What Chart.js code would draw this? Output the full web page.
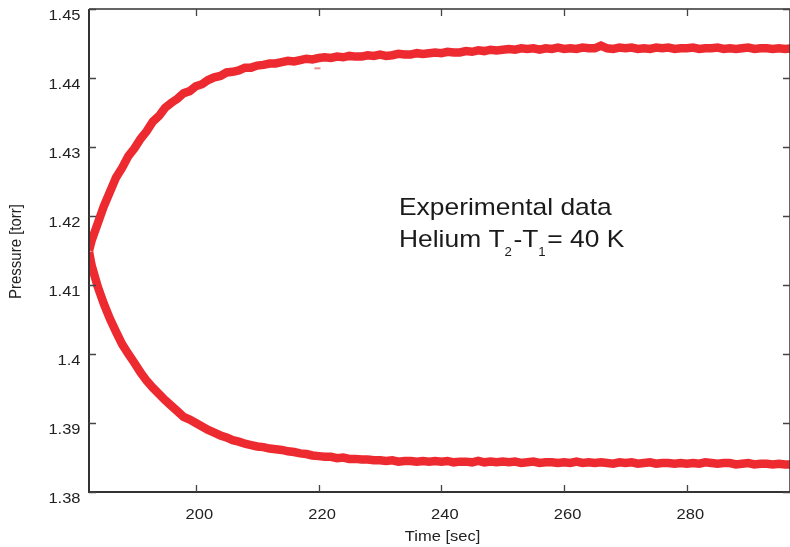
<!DOCTYPE html>
<html>
<head>
<meta charset="utf-8">
<title>Pressure vs time</title>
<script src="https://cdn.jsdelivr.net/npm/chart.js@4"></script>
<style>
  html, body { margin: 0; padding: 0; background: #fff; }
  #wrap { width: 790px; height: 547px; position: relative; }
</style>
</head>
<body>
<div id="wrap"><canvas id="pressureChart" width="790" height="547"></canvas></div>
<script>
/*
 * Experimental pressure traces (helium, T2-T1 = 40 K), drawn with Chart.js.
 * Values.
 */

// time axis [sec]
const times = [
  182.6, 183, 184, 185, 186, 187, 188, 189, 190, 191, 192, 193, 194, 195, 196, 197, 198, 199,
  200, 201, 202, 203, 204, 205, 206, 207, 208, 209, 210, 211, 212, 213, 214, 215, 216, 217, 218, 219,
  220, 221, 222, 223, 224, 225, 226, 227, 228, 229, 230, 231, 232, 233, 234, 235, 236, 237, 238, 239,
  240, 241, 242, 243, 244, 245, 246, 247, 248, 249, 250, 251, 252, 253, 254, 255, 256, 257, 258, 259,
  260, 261, 262, 263, 264, 265, 266, 267, 268, 269, 270, 271, 272, 273, 274, 275, 276, 277, 278, 279,
  280, 281, 282, 283, 284, 285, 286, 287, 288, 289, 290, 291, 292, 293, 294, 295, 296, 297
];

// rising branch [torr]
const upperPressure = [
  1.4150, 1.4164, 1.4189, 1.4214, 1.4235, 1.4256, 1.4270, 1.4287, 1.4298, 1.4312, 1.4323, 1.4337, 1.4345, 1.4357, 1.4364, 1.4370, 1.4378, 1.4381,
  1.4388, 1.4391, 1.4397, 1.4401, 1.4403, 1.4408, 1.4409, 1.4411, 1.4415, 1.4415, 1.4418, 1.4419, 1.4421, 1.4421, 1.4423, 1.4425, 1.4424, 1.4426, 1.4428, 1.4427,
  1.4429, 1.4430, 1.4429, 1.4431, 1.4430, 1.4432, 1.4431, 1.4431, 1.4433, 1.4432, 1.4434, 1.4432, 1.4433, 1.4435, 1.4434, 1.4434, 1.4436, 1.4435, 1.4436, 1.4437,
  1.4436, 1.4438, 1.4437, 1.4437, 1.4439, 1.4438, 1.4440, 1.4439, 1.4441, 1.4440, 1.4441, 1.4442, 1.4441, 1.4443, 1.4442, 1.4443, 1.4441, 1.4443, 1.4442, 1.4444,
  1.4442, 1.4443, 1.4442, 1.4444, 1.4443, 1.4443, 1.4447, 1.4443, 1.4442, 1.4444, 1.4443, 1.4444, 1.4442, 1.4443, 1.4442, 1.4444, 1.4443, 1.4444, 1.4442, 1.4443,
  1.4443, 1.4444, 1.4442, 1.4443, 1.4443, 1.4444, 1.4442, 1.4443, 1.4442, 1.4443, 1.4444, 1.4442, 1.4443, 1.4443, 1.4442, 1.4443, 1.4442, 1.4443
];

// falling branch [torr]
const lowerPressure = [
  1.4148, 1.4129, 1.4098, 1.4073, 1.4051, 1.4032, 1.4014, 1.4000, 1.3987, 1.3973, 1.3961, 1.3951, 1.3942, 1.3933, 1.3925, 1.3917, 1.3909, 1.3905,
  1.3900, 1.3895, 1.3890, 1.3886, 1.3882, 1.3879, 1.3875, 1.3873, 1.3870, 1.3868, 1.3866, 1.3865, 1.3863, 1.3862, 1.3861, 1.3859, 1.3858, 1.3856, 1.3855, 1.3853,
  1.3852, 1.3851, 1.3851, 1.3849, 1.3850, 1.3848, 1.3848, 1.3847, 1.3847, 1.3846, 1.3846, 1.3845, 1.3846, 1.3844, 1.3845, 1.3845, 1.3844, 1.3845, 1.3844, 1.3845,
  1.3844, 1.3845, 1.3843, 1.3844, 1.3844, 1.3843, 1.3845, 1.3843, 1.3844, 1.3843, 1.3844, 1.3843, 1.3844, 1.3842, 1.3843, 1.3844, 1.3842, 1.3843, 1.3843, 1.3842,
  1.3843, 1.3842, 1.3844, 1.3842, 1.3843, 1.3842, 1.3843, 1.3842, 1.3841, 1.3843, 1.3842, 1.3843, 1.3841, 1.3842, 1.3843, 1.3841, 1.3842, 1.3842, 1.3841, 1.3842,
  1.3841, 1.3842, 1.3841, 1.3843, 1.3842, 1.3841, 1.3842, 1.3842, 1.3840, 1.3841, 1.3842, 1.3840, 1.3841, 1.3841, 1.3840, 1.3841, 1.3840, 1.3840
];

// little stray dash just under the upper trace
const strayTimes = [219.3, 220.3];
const strayPressure = [1.4414, 1.4414];

// axis ticks
const xTicks = [200, 220, 240, 260, 280];
const xTickLabels = ['200', '220', '240', '260', '280'];
const yTicks = [1.45, 1.44, 1.43, 1.42, 1.41, 1.40, 1.39, 1.38];
const yTickLabels = ['1.45', '1.44', '1.43', '1.42', '1.41', '1.4', '1.39', '1.38'];

const X_MIN = 182.59;
const X_MAX = 296.8;
const Y_MIN = 1.38;
const Y_MAX = 1.45;

const RED = '#ec2a30';
const FONT = '"Liberation Sans", Arial, Helvetica, sans-serif';
const STRETCH = 1.1; // the reference text is slightly wider than normal

/**
 * Pair up two arrays into {x, y} points for Chart.js
 */
function toPoints(xs, ys) {
  return xs.map((x, i) => ({ x: x, y: ys[i] }));
}

/**
 * Draw a string stretched horizontally
 */
function wideText(ctx, text, x, y, align, sx) {
  ctx.save();
  ctx.translate(x, y);
  ctx.scale(sx, 1);
  ctx.textAlign = align;
  ctx.fillText(text, 0, 0);
  ctx.restore();
}

// frame, inward ticks on all four sides, labels and the note
const framePlugin = {
  id: 'frame',
  afterDraw(chart) {
    const ctx = chart.ctx;
    const area = chart.chartArea;
    const xs = chart.scales.x;
    const ys = chart.scales.y;
    ctx.save();

    // box
    ctx.strokeStyle = '#333';
    ctx.lineWidth = 2;
    ctx.beginPath();
    ctx.moveTo(area.left, area.top);
    ctx.lineTo(area.left, area.bottom);
    ctx.lineTo(area.right, area.bottom);
    ctx.stroke();
    ctx.lineWidth = 1.5;
    ctx.beginPath();
    ctx.moveTo(area.left, area.top);
    ctx.lineTo(area.right, area.top);
    ctx.lineTo(area.right, area.bottom);
    ctx.stroke();

    // tick marks
    ctx.strokeStyle = '#444';
    ctx.lineWidth = 1.3;
    ctx.beginPath();
    xTicks.forEach((v) => {
      const px = Math.round(xs.getPixelForValue(v)) + 0.5;
      ctx.moveTo(px, area.bottom);
      ctx.lineTo(px, area.bottom - 7);
      ctx.moveTo(px, area.top);
      ctx.lineTo(px, area.top + 7);
    });
    yTicks.forEach((v) => {
      const py = Math.round(ys.getPixelForValue(v)) + 0.5;
      ctx.moveTo(area.left, py);
      ctx.lineTo(area.left + 7, py);
      ctx.moveTo(area.right, py);
      ctx.lineTo(area.right - 7, py);
    });
    ctx.stroke();

    // tick labels
    ctx.fillStyle = '#222';
    ctx.font = '15px ' + FONT;
    ctx.textBaseline = 'alphabetic';
    yTicks.forEach((v, i) => {
      const py = ys.getPixelForValue(v);
      wideText(ctx, yTickLabels[i], 80.5, py + 11, 'right', STRETCH);
    });
    xTicks.forEach((v, i) => {
      const px = xs.getPixelForValue(v);
      wideText(ctx, xTickLabels[i], px + 3.5, 519, 'center', STRETCH);
    });

    // axis titles
    wideText(ctx, 'Time [sec]', 442.5, 541, 'center', STRETCH);
    ctx.save();
    ctx.translate(21, 251.5);
    ctx.rotate(-Math.PI / 2);
    ctx.scale(1, STRETCH);
    ctx.textAlign = 'center';
    ctx.fillText('Pressure [torr]', 0, 0);
    ctx.restore();

    // note inside the plot
    ctx.font = '24px ' + FONT;
    ctx.fillStyle = '#1a1a1a';
    wideText(ctx, 'Experimental data', 399, 215, 'left', STRETCH);
    const parts = [
      { t: 'Helium T', size: 24, dy: 0 },
      { t: '2', size: 12, dy: 9 },
      { t: '-T', size: 24, dy: 0 },
      { t: '1', size: 12, dy: 9 },
      { t: '= 40 K', size: 24, dy: 0 },
    ];
    let cx = 399;
    parts.forEach((p) => {
      ctx.font = p.size + 'px ' + FONT;
      wideText(ctx, p.t, cx, 247 + p.dy, 'left', STRETCH);
      cx += ctx.measureText(p.t).width * STRETCH + (p.size < 20 ? 1.5 : 0);
    });

    ctx.restore();
  },
};

const ctx = document.getElementById('pressureChart').getContext('2d');
window.pressureChart = new Chart(ctx, {
  type: 'line',
  data: {
    datasets: [
      {
        label: 'rising',
        data: toPoints(times, upperPressure),
        borderColor: RED,
        borderWidth: 8.5,
        pointRadius: 0,
        tension: 0,
      },
      {
        label: 'falling',
        data: toPoints(times, lowerPressure),
        borderColor: RED,
        borderWidth: 8.5,
        pointRadius: 0,
        tension: 0,
      },
      {
        label: 'stray',
        data: toPoints(strayTimes, strayPressure),
        borderColor: 'rgba(238, 110, 115, 0.8)',
        borderWidth: 2,
        pointRadius: 0,
      },
    ],
  },
  options: {
    responsive: false,
    animation: false,
    devicePixelRatio: 1,
    layout: { padding: { left: 0, top: 9, right: 0, bottom: 0 } },
    plugins: {
      legend: { display: false },
      tooltip: { enabled: false },
      title: { display: false },
    },
    scales: {
      x: {
        type: 'linear',
        min: X_MIN,
        max: X_MAX,
        grid: { display: false },
        border: { display: false },
        ticks: { display: false },
        afterFit: (scale) => { scale.height = 55; },
      },
      y: {
        type: 'linear',
        min: Y_MIN,
        max: Y_MAX,
        grid: { display: false },
        border: { display: false },
        ticks: { display: false },
        afterFit: (scale) => { scale.width = 89; },
      },
    },
  },
  plugins: [framePlugin],
});
</script>
</body>
</html>
